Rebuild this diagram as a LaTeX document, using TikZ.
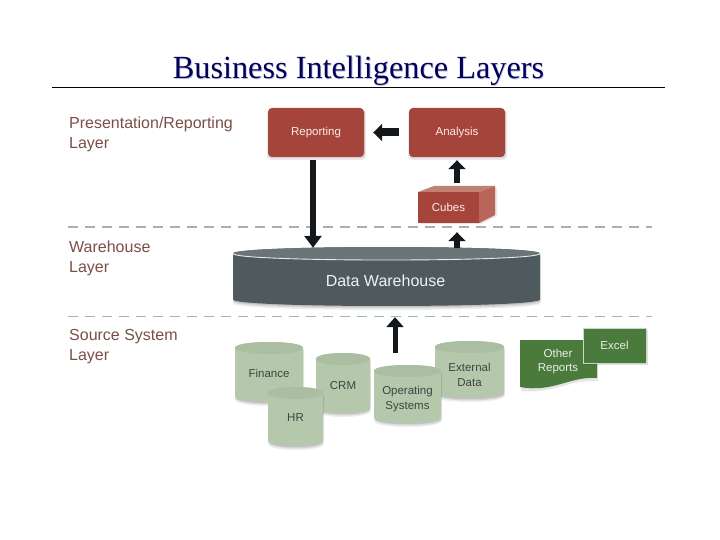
\documentclass[tikz,border=0pt]{standalone}
\usepackage{fontspec}
\setmainfont{Liberation Sans}
\newfontfamily\ttlfont{Liberation Serif}
\usetikzlibrary{arrows.meta}
\definecolor{redbox}{HTML}{A4443A}
\definecolor{redtop}{HTML}{C08074}
\definecolor{redside}{HTML}{B9655A}
\definecolor{labelcol}{HTML}{7B4F48}
\definecolor{cylbody}{HTML}{B6C8AC}
\definecolor{cyltop}{HTML}{ACBEA2}
\definecolor{cyltext}{HTML}{3F453F}
\definecolor{dwbody}{HTML}{4E5A5D}
\definecolor{dwtop}{HTML}{6A7578}
\definecolor{greenbox}{HTML}{4A7A3C}
\definecolor{navytitle}{HTML}{00005E}
\definecolor{dashcol}{HTML}{A9B0B0}
\definecolor{arrowcol}{HTML}{14181A}
\tikzset{
  x=1pt,y=-1pt,
  layerlabel/.style={anchor=north west,align=left,inner sep=0pt,text=labelcol,font=\fontsize{16}{20}\selectfont},
  holder/.style={inner sep=0pt,align=center,font=\fontsize{11.5}{14.5}\selectfont},
  cyllabel/.style={holder,text=cyltext},
  redlabel/.style={holder,text=white!92!red},
  layerline/.style={dashcol,line width=1.6pt,dash pattern=on 10pt off 7pt},
  bigarrow/.style={arrowcol,line width=6pt,-{Triangle[length=12pt,width=17pt]}},
  smallarrow/.style={arrowcol,line width=8pt,-{Triangle[length=9pt,width=17pt]}},
}
% x1,y1,x2,y2,ry : closed cylinder outline
\newcommand{\cylpath}[5]{(#1,#2+#5) .. controls (#1,#2+#5-1.333*#5) and (#3,#2+#5-1.333*#5) .. (#3,#2+#5) -- (#3,#4-#5) .. controls (#3,#4-#5+1.333*#5) and (#1,#4-#5+1.333*#5) .. (#1,#4-#5) -- cycle}
\newcommand{\cyltoppath}[5]{(#1,#2+#5) .. controls (#1,#2+#5-1.333*#5) and (#3,#2+#5-1.333*#5) .. (#3,#2+#5) .. controls (#3,#2+#5+1.333*#5) and (#1,#2+#5+1.333*#5) .. (#1,#2+#5) -- cycle}
\newcommand{\softshadow}[1]{%
  \fill[black,opacity=.07,shift={(0,4)}] #1;
  \fill[black,opacity=.09,shift={(1,2.5)}] #1;
  \fill[black,opacity=.10,shift={(0,1.2)}] #1;}
\newcommand{\greencyl}[4]{%
  \softshadow{\cylpath{#1}{#2}{#3}{#4}{6}}
  \fill[cylbody] \cylpath{#1}{#2}{#3}{#4}{6};
  \fill[cyltop] \cyltoppath{#1}{#2}{#3}{#4}{6};}
\begin{document}
\begin{tikzpicture}
\useasboundingbox (0,0) rectangle (720,540);
\fill[white] (0,0) rectangle (720,540);
% title
\node[inner sep=0pt,text=navytitle!40,opacity=.6,font=\ttlfont\fontsize{32.3}{36}\selectfont] (titleshadow) at (359.3,71.8) {Business Intelligence Layers};
\node[inner sep=0pt,text=navytitle,font=\ttlfont\fontsize{32.3}{36}\selectfont] (title) at (358.5,71) {Business Intelligence Layers};
\coordinate (ruleL) at (52,88);
\coordinate (ruleR) at (665,88);
\draw[black,line width=1pt] (ruleL) -- (ruleR);
% layer labels
\node[layerlabel] (lab1) at (69,117) {Presentation/Reporting\\Layer};
\node[layerlabel] (lab2) at (69,240.5) {Warehouse\\Layer};
\node[layerlabel] (lab3) at (69,329.5) {Source System\\Layer};
% dashed
\coordinate (d1L) at (68,227); \coordinate (d1R) at (652,227);
\coordinate (d2L) at (68,316.5); \coordinate (d2R) at (652,316.5);
\draw[layerline] (d1L) -- (d1R);
\draw[layerline] (d2L) -- (d2R);
% red boxes
\foreach \a/\b in {268/364,409/505}{
  \fill[black,opacity=.08,rounded corners=4pt] (\a-1,110) rectangle (\b+2,160);
  \fill[black,opacity=.10,rounded corners=4pt] (\a,109) rectangle (\b+1,158.5);
}
\node[redlabel,fill=redbox,rounded corners=4pt,minimum width=96pt,minimum height=49pt] (rep) at (316,132.5) {Reporting};
\node[redlabel,fill=redbox,rounded corners=4pt,minimum width=96pt,minimum height=49pt] (ana) at (457,132.5) {Analysis};
% cubes
\fill[black,opacity=.10] (420,224) -- (481,224) -- (497,216) -- (497,188) -- (480,188) -- cycle;
\fill[redtop] (418,192) -- (434,186) -- (495,186) -- (479,192) -- cycle;
\fill[redside] (479,192) -- (495,186) -- (495,215) -- (479,223) -- cycle;
\node[redlabel,fill=redbox,minimum width=61pt,minimum height=31pt] (cub) at (448.5,207.5) {Cubes};
% data warehouse
\softshadow{\cylpath{233}{247}{540}{306}{6.5}}
\fill[dwbody] \cylpath{233}{247}{540}{306}{6.5};
\fill[dwtop] \cyltoppath{233}{247}{540}{260}{6.5};
\draw[white!85!dwtop,line width=.9pt] (233,253.5) .. controls (233,262.2) and (540,262.2) .. (540,253.5);
\node[holder,text=white!92!dwbody,minimum width=307pt,minimum height=50pt,font=\fontsize{16}{18}\selectfont] (dw) at (385.5,281) {Data Warehouse};
% source cylinders
\greencyl{235}{342}{303}{402}
\node[cyllabel,minimum width=68pt,minimum height=60pt] (fin) at (269,373) {Finance};
\greencyl{316}{353}{370}{413}
\node[cyllabel,minimum width=54pt,minimum height=60pt] (crm) at (343,386) {CRM};
\greencyl{268}{387}{323}{446}
\node[cyllabel,minimum width=55pt,minimum height=59pt] (hr) at (295.5,418) {HR};
\greencyl{435}{341}{504}{398}
\node[cyllabel,minimum width=69pt,minimum height=57pt] (ext) at (469.5,375) {External\\Data};
\greencyl{374}{365}{441}{423}
\node[cyllabel,minimum width=67pt,minimum height=58pt] (ops) at (407.5,399) {Operating\\Systems};
% other reports
\fill[black,opacity=.10] (521,343) -- (598,343) -- (598,381) .. controls (570,379) and (555,394) .. (521,391) -- cycle;
\fill[greenbox] (520,340) -- (597,340) -- (597,378) .. controls (570,376) and (553,393) .. (520,387) -- cycle;
\node[holder,text=white!88!greenbox,minimum width=77pt,minimum height=30pt] (oth) at (558,361.5) {Other\\Reports};
% excel
\fill[black,opacity=.12] (584,330) rectangle (648,365);
\node[holder,text=white!88!greenbox,fill=greenbox,draw=white!70!greenbox,line width=.6pt,minimum width=63pt,minimum height=35pt] (exc) at (614.5,345.5) {Excel};
% arrows
\draw[smallarrow] ([xshift=-10pt]ana.west) -- ([xshift=9pt]rep.east);
\draw[bigarrow] ([xshift=-3pt,yshift=-3pt]rep.south) -- ([xshift=-72.5pt,yshift=8pt]dw.north);
\draw[arrowcol,line width=6pt,-{Triangle[length=9pt,width=17pt]}] ([xshift=8.5pt,yshift=9pt]cub.north) -- ([yshift=-3pt]ana.south);
\draw[arrowcol,line width=6pt,-{Triangle[length=9pt,width=17pt]}] ([xshift=71.5pt,yshift=8pt]dw.north) -- ([xshift=8.5pt,yshift=-9pt]cub.south);
\draw[arrowcol,line width=5pt,-{Triangle[length=10pt,width=17pt]}] ([xshift=-12.5pt,yshift=17pt]ops.north) -- ([xshift=9.5pt,yshift=-11pt]dw.south);
\end{tikzpicture}
\end{document}
